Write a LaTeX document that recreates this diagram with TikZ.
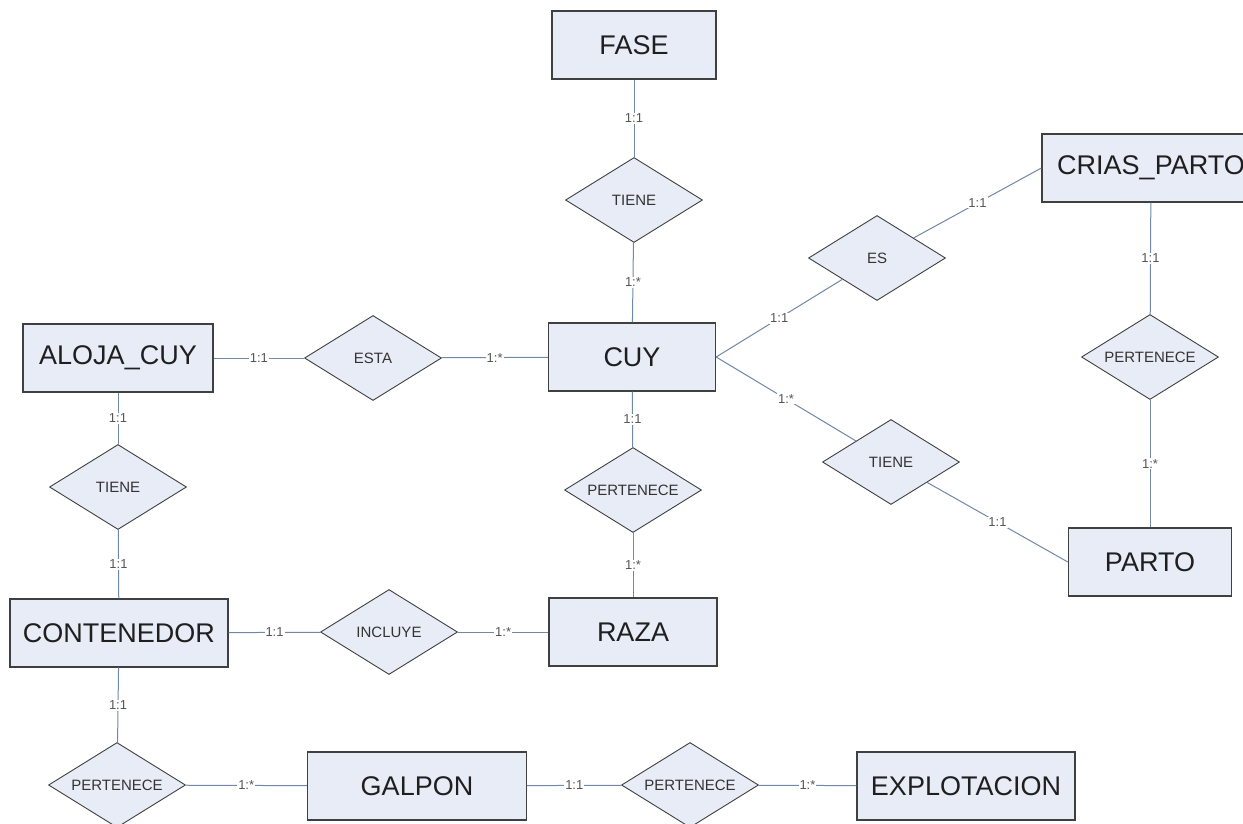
\documentclass[tikz,border=0pt]{standalone}
\usepackage{fontspec}
\setmainfont{Liberation Sans}
\usetikzlibrary{shapes.geometric}
\definecolor{entfill}{HTML}{E7ECF6}
\definecolor{linka}{HTML}{7088A8}
\definecolor{popis}{HTML}{555555}

\begin{document}
\begin{tikzpicture}[x=1pt, y=-1pt,
  entita/.style={draw=black!75, fill=entfill, line width=1.3pt, minimum height=68pt, inner sep=0pt, text=black!88, font=\fontsize{27}{30}\selectfont},
  vztah/.style={diamond, draw=black!75, fill=entfill, line width=0.9pt, minimum width=137pt, minimum height=85pt, inner sep=0pt, text=black!80, font=\fontsize{15}{17}\selectfont,
    execute at begin node={\hbox to 0pt\bgroup\hss}, execute at end node={\hss\egroup}},
  spoj/.style={draw=linka, line width=1pt},
  kard/.style={fill=white, inner sep=1pt, text=popis, font=\fontsize{13}{14}\selectfont}]
  \useasboundingbox (0,0) rectangle (1243,823);
  \clip (0,0) rectangle (1243,823);

  % Entity
  \node[entita, minimum width=164pt] (fase) at (634,45) {FASE};
  \node[entita, minimum width=218pt] (crias) at (1151,168) {CRIAS\_PARTO};
  \node[entita, minimum width=190pt] (aloja) at (118,358) {ALOJA\_CUY};
  \node[entita, minimum width=167pt] (cuy) at (632,357) {CUY};
  \node[entita, minimum width=163pt] (parto) at (1150,562) {PARTO};
  \node[entita, minimum width=218pt] (conten) at (119,633) {CONTENEDOR};
  \node[entita, minimum width=168pt] (raza) at (633,632) {RAZA};
  \node[entita, minimum width=219pt] (galpon) at (417,786) {GALPON};
  \node[entita, minimum width=218pt] (explot) at (966,786) {EXPLOTACION};

  % Vztahy
  \node[vztah] (tieneF) at (634,200) {TIENE};
  \node[vztah] (es) at (877,258) {ES};
  \node[vztah] (esta) at (373,358) {ESTA};
  \node[vztah] (pertR) at (633,490) {PERTENECE};
  \node[vztah] (pertC) at (1150,357) {PERTENECE};
  \node[vztah] (tieneP) at (891,462) {TIENE};
  \node[vztah] (tieneA) at (118,487) {TIENE};
  \node[vztah] (incluye) at (389,632) {INCLUYE};
  \node[vztah] (pertG) at (117,785) {PERTENECE};
  \node[vztah] (pertE) at (690,785) {PERTENECE};

  % Spojnice s kardinalitou
  \draw[spoj] (fase) -- node[kard] {1:1} (tieneF);
  \draw[spoj] (tieneF) -- node[kard] {1:*} (cuy);
  \draw[spoj] (aloja) -- node[kard] {1:1} (esta);
  \draw[spoj] (esta) -- node[kard] {1:*} (cuy);
  \draw[spoj] (cuy.east) -- node[kard] {1:1} (es);
  \draw[spoj] (es) -- node[kard] {1:1} (crias.west);
  \draw[spoj] (crias) -- node[kard] {1:1} (pertC);
  \draw[spoj] (pertC) -- node[kard] {1:*} (parto);
  \draw[spoj] (cuy.east) -- node[kard] {1:*} (tieneP);
  \draw[spoj] (tieneP) -- node[kard] {1:1} (parto.west);
  \draw[spoj] (cuy) -- node[kard] {1:1} (pertR);
  \draw[spoj] (pertR) -- node[kard] {1:*} (raza);
  \draw[spoj] (aloja) -- node[kard] {1:1} (tieneA);
  \draw[spoj] (tieneA) -- node[kard] {1:1} (conten);
  \draw[spoj] (conten) -- node[kard] {1:1} (incluye);
  \draw[spoj] (incluye) -- node[kard] {1:*} (raza);
  \draw[spoj] (conten) -- node[kard] {1:1} (pertG);
  \draw[spoj] (pertG) -- node[kard] {1:*} (galpon);
  \draw[spoj] (galpon) -- node[kard] {1:1} (pertE);
  \draw[spoj] (pertE) -- node[kard] {1:*} (explot);

\end{tikzpicture}
\end{document}
